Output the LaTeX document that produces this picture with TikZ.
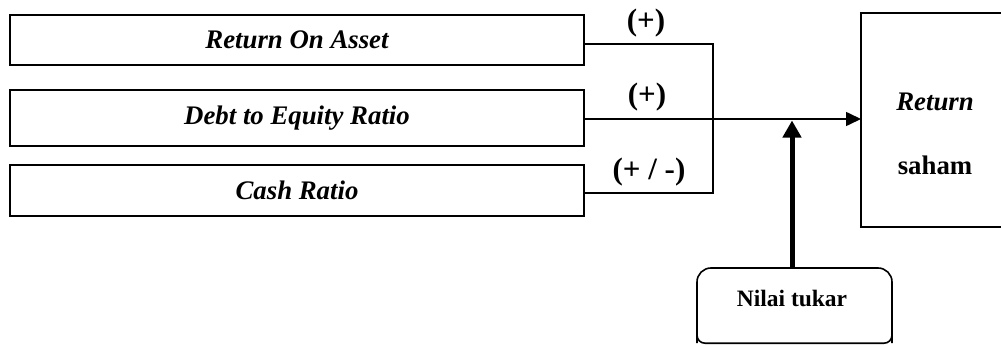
\documentclass[tikz,border=0pt]{standalone}
\usepackage{fontspec}
\setmainfont{Liberation Serif}
\usetikzlibrary{arrows.meta}
\begin{document}
\begin{tikzpicture}[x=1pt,y=-1pt,
  varbox/.style={draw,line width=1.6pt,rectangle,inner sep=0pt},
  conn/.style={line width=1.6pt},
  lbl/.style={font=\fontsize{31}{35}\selectfont\bfseries,inner sep=0pt}]
\useasboundingbox (0,0) rectangle (1001,345);
\node[varbox,minimum width=574pt,minimum height=50pt] (roa) at (297,40)
  {\fontsize{26.8}{30}\selectfont\bfseries\itshape Return On Asset};
\node[varbox,minimum width=574pt,minimum height=56pt] (der) at (297,118)
  {\fontsize{26.8}{30}\selectfont\bfseries\itshape Debt to Equity Ratio};
\node[varbox,minimum width=574pt,minimum height=51pt] (cr) at (297,190.5)
  {\fontsize{26.8}{30}\selectfont\bfseries\itshape Cash Ratio};
\draw[line width=2.4pt] (861,13) rectangle (1003,227);
\coordinate (retw) at (861,119);
\node[inner sep=0pt,font=\fontsize{26.8}{30}\selectfont\bfseries\itshape] (ret1) at (935,102) {Return};
\node[inner sep=0pt,font=\fontsize{26.8}{30}\selectfont\bfseries] (ret2) at (935,165) {saham};
\draw[line width=1.6pt,rounded corners=14pt] (697,343) -- (697,268) -- (892,268) -- (892,343);
\draw[line width=1.6pt,rounded corners=8pt] (697,325) -- (697,343.2) -- (892,343.2) -- (892,325);
\coordinate (ntn) at (792,268);
\node[inner sep=0pt,font=\fontsize{23.5}{27}\selectfont\bfseries] (nt) at (792,298) {Nilai tukar};
\coordinate (j1) at (713,44);
\coordinate (j3) at (713,193);
\coordinate (j2) at (713,119);
\draw[conn] (roa.east |- j1) -- (j1) -- (j3) -- (cr.east |- j3);
\draw[conn,-{Triangle[length=15pt,width=14pt]}] (der.east |- j2) -- (retw);
\draw[line width=5pt,-{Triangle[length=17pt,width=18pt]}] (ntn) -- (792,120.5);
\node[lbl] (l1) at (646,23) {(+)};
\node[lbl] (l2) at (647,97) {(+)};
\node[lbl] (l3) at (649,172) {(+ / -)};
\end{tikzpicture}
\end{document}
